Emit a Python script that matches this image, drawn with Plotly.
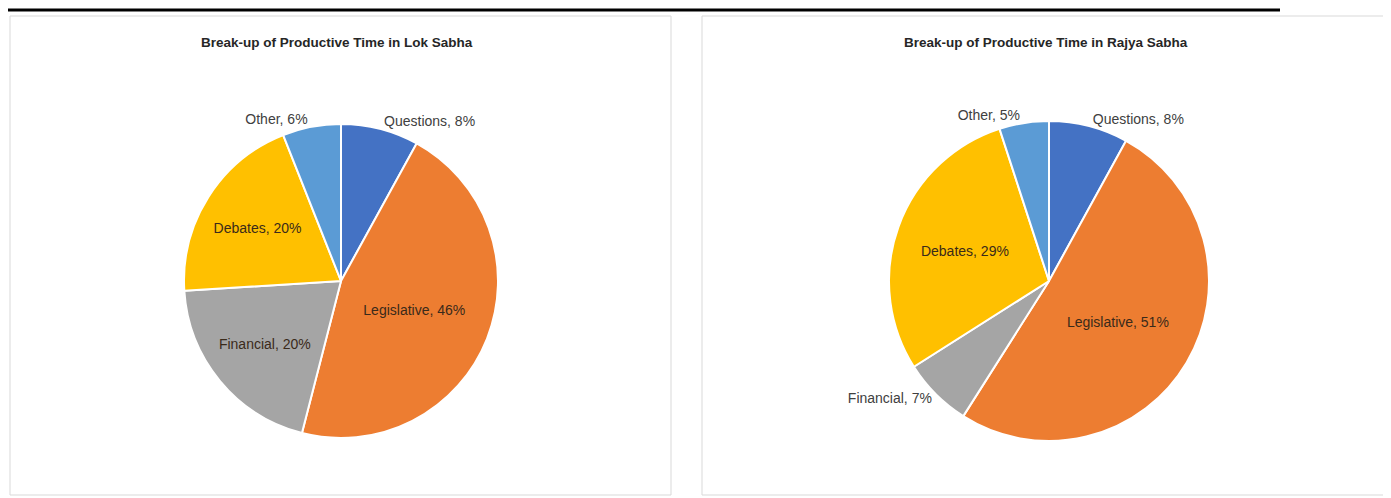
import plotly.graph_objects as go

categories = ["Questions", "Legislative", "Financial", "Debates", "Other"]
lok_sabha = [8, 46, 20, 20, 6]
rajya_sabha = [8, 51, 7, 29, 5]
titles = ["Break-up of Productive Time in Lok Sabha",
          "Break-up of Productive Time in Rajya Sabha"]
colors = ["#4472C4", "#ED7D31", "#A5A5A5", "#FFC000", "#5B9BD5"]
ls_textpos = ["outside", "inside", "inside", "inside", "outside"]
rs_textpos = ["outside", "inside", "outside", "inside", "outside"]

OFF = 8  # default body margin of the page
W, H = 1391 - OFF, 498 - OFF
FONT = "Liberation Sans Narrow, Arial Narrow, Liberation Sans, sans-serif"


def px(x):
    return (x - OFF) / W


def py(y):
    return 1 - (y - OFF) / H


def px_dom(cx, cy, r):
    return dict(x=[px(cx - r), px(cx + r)], y=[py(cy + r), py(cy - r)])


fig = go.Figure()
for vals, pos, (cx, cy, r) in [(lok_sabha, ls_textpos, (341, 281, 157)),
                               (rajya_sabha, rs_textpos, (1049, 281, 160))]:
    fig.add_trace(go.Pie(
        labels=categories, values=vals, sort=False, direction="clockwise",
        rotation=0,
        marker=dict(colors=colors, line=dict(color="white", width=2)),
        texttemplate="%{label}, %{percent:.0%}",
        textposition=pos,
        insidetextorientation="horizontal",
        textfont=dict(family=FONT, size=14, color="#404040"),
        insidetextfont=dict(family=FONT, size=14, color="#3a2a1a"),
        outsidetextfont=dict(family=FONT, size=14, color="#404040"),
        domain=px_dom(cx, cy, r),
        showlegend=False, hoverinfo="label+percent",
    ))

shapes = [
    dict(type="line", xref="paper", yref="paper", x0=0, x1=px(1280),
         y0=py(10), y1=py(10), line=dict(color="black", width=3)),
    dict(type="rect", xref="paper", yref="paper", x0=px(10), x1=px(671),
         y0=py(495), y1=py(16), line=dict(color="#d9d9d9", width=1),
         layer="below"),
    dict(type="rect", xref="paper", yref="paper", x0=px(702), x1=1.01,
         y0=py(495), y1=py(16), line=dict(color="#d9d9d9", width=1),
         layer="below"),
]

annotations = [
    dict(text="<b>" + titles[0] + "</b>", x=px(337), y=py(43),
         xref="paper", yref="paper", showarrow=False, xanchor="center",
         yanchor="middle", font=dict(family=FONT, size=13.5, color="#262626")),
    dict(text="<b>" + titles[1] + "</b>", x=px(1046), y=py(43),
         xref="paper", yref="paper", showarrow=False, xanchor="center",
         yanchor="middle", font=dict(family=FONT, size=13.5, color="#262626")),
]

fig.update_layout(width=W, height=H, margin=dict(l=0, r=0, t=0, b=0),
                  paper_bgcolor="white", plot_bgcolor="white",
                  shapes=shapes, annotations=annotations)
fig.write_html("out.html")
